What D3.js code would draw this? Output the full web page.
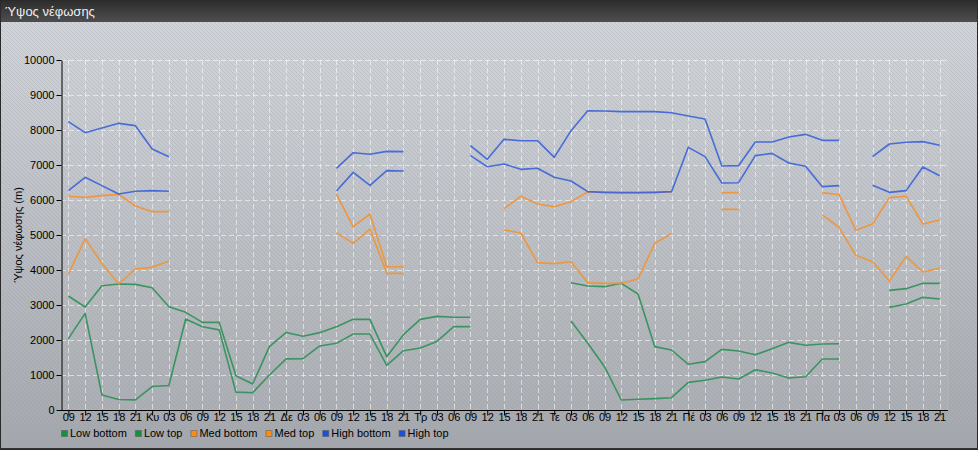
<!DOCTYPE html>
<html><head><meta charset="utf-8">
<script src="https://cdn.jsdelivr.net/npm/d3@7"></script>
<style>
html,body{margin:0;padding:0;background:#fff;}
svg{display:block;font-family:"Liberation Sans",Arial,sans-serif;}
</style></head>
<body>
<svg id="c" width="978" height="450"></svg>
<script>
const title = "Ύψος νέφωσης";
const yTitle = "Ύψος νέφωσης (m)";
const categories = ["09","12","15","18","21",
 "Κυ","03","06","09","12","15","18","21",
 "Δε","03","06","09","12","15","18","21",
 "Τρ","03","06","09","12","15","18","21",
 "Τε","03","06","09","12","15","18","21",
 "Πέ","03","06","09","12","15","18","21",
 "Πα","03","06","09","12","15","18","21"];
const yTicks = [0,1000,2000,3000,4000,5000,6000,7000,8000,9000,10000];
const N = null;
const lowBottom = [2040,2760,430,300,290,670,700,2600,2380,2290,510,495,1000,1460,1467,1830,1905,2170,2170,1276,1695,1771,1960,2381,2381,N,N,N,N,N,2543,1905,1238,286,305,324,352,790,848,943,886,1152,1057,914,952,1457,1457,N,N,2933,3029,3219,3171];
const lowTop = [3257,2943,3552,3600,3590,3495,2952,2790,2505,2505,981,743,1810,2215,2105,2210,2381,2590,2590,1524,2152,2590,2676,2648,2648,N,N,N,N,N,3638,3543,3524,3619,3314,1810,1714,1305,1381,1733,1686,1581,1752,1933,1848,1886,1895,N,N,3419,3467,3619,3619];
const medBottom = [3886,4895,4190,3600,4029,4076,4257,N,N,N,N,N,N,N,N,N,5067,4762,5171,3905,3905,N,N,N,N,N,5143,5057,4210,4181,4238,3638,3619,3619,3743,4762,5048,N,N,5733,5733,N,N,N,N,5571,5219,4419,4238,3686,4390,3943,4048];
const medTop = [6105,6076,6124,6162,5829,5667,5667,N,N,N,N,N,N,N,N,N,6162,5238,5600,4095,4095,N,N,N,N,N,5752,6105,5886,5810,5952,6229,6219,6210,6210,6219,6229,N,N,6210,6210,N,N,N,N,6210,6152,5133,5314,6067,6105,5314,5429];
const highBottom = [6267,6648,6410,6171,6248,6267,6248,N,N,N,N,N,N,N,N,N,6257,6790,6419,6838,6829,N,N,N,7267,6952,7029,6876,6905,6648,6543,6238,6219,6210,6210,6219,6238,7505,7238,6486,6495,7267,7333,7057,6962,6381,6410,N,6419,6219,6267,6943,6695];
const highTop = [8238,7924,8057,8190,8124,7457,7238,N,N,N,N,N,N,N,N,N,6905,7352,7305,7390,7381,N,N,N,7552,7162,7733,7695,7695,7219,7981,8552,8543,8524,8524,8524,8495,8400,8314,6971,6981,7657,7657,7800,7876,7705,7705,N,7238,7600,7648,7667,7562];
const seriesNames = ["Low bottom","Low top","Med bottom","Med top","High bottom","High top"];
const seriesData = [lowBottom, lowTop, medBottom, medTop, highBottom, highTop];
const lineColors = ["#2e9058","#2e9058","#f39232","#f39232","#3a62da","#3a62da"];
const swatchColors = ["#159040","#159040","#ff8c10","#ff8c10","#1c4ee0","#1c4ee0"];

const svg = d3.select("#c");
const W = 978, H = 450;
const defs = svg.append("defs");
const bg = defs.append("linearGradient").attr("id","bg").attr("x1",0).attr("y1",0).attr("x2",0).attr("y2",1);
bg.append("stop").attr("offset","0%").attr("stop-color","#d3d6da");
bg.append("stop").attr("offset","100%").attr("stop-color","#a4a7ab");
const tb = defs.append("linearGradient").attr("id","tb").attr("x1",0).attr("y1",0).attr("x2",0).attr("y2",1);
tb.append("stop").attr("offset","0%").attr("stop-color","#2c2c2c");
tb.append("stop").attr("offset","100%").attr("stop-color","#4e4e4e");
const pat = defs.append("pattern").attr("id","hatch").attr("patternUnits","userSpaceOnUse").attr("width",4).attr("height",4);
pat.append("path").attr("d","M-1,-1 L5,5 M-1,3 L1,5 M3,-1 L5,1").attr("stroke","#8f96a3").attr("stroke-opacity",0.25).attr("stroke-width",1);

svg.append("rect").attr("x",0).attr("y",0).attr("width",W).attr("height",H).attr("fill","url(#bg)");
svg.append("rect").attr("x",0).attr("y",0).attr("width",W).attr("height",H).attr("fill","url(#hatch)");
svg.append("rect").attr("x",0).attr("y",0).attr("width",W).attr("height",22).attr("fill","url(#tb)");
svg.append("rect").attr("x",0.5).attr("y",0.5).attr("width",W-1).attr("height",H-1).attr("fill","none").attr("stroke","#2a2a2a");
svg.append("line").attr("x1",0).attr("x2",W).attr("y1",448.5).attr("y2",448.5).attr("stroke","#333");
svg.append("text").attr("x",5).attr("y",16).attr("fill","#f0f0f0").attr("font-size",13).text(title);

const plotL = 61, plotR = 948, plotT = 60, plotB = 410;
const x = d3.scalePoint().domain(d3.range(categories.length)).range([plotL-1, plotR]).padding(0.5);
const y = d3.scaleLinear().domain([0,10000]).range([plotB, plotT]);

svg.append("rect").attr("x",plotL).attr("y",plotT).attr("width",plotR-plotL).attr("height",plotB-plotT)
  .attr("fill","#ffffff").attr("fill-opacity",0.04).attr("stroke","#ffffff").attr("stroke-opacity",0.12);

const grid = svg.append("g");
grid.selectAll("line.h").data(yTicks.filter(d=>d>0)).join("line")
  .attr("x1",plotL).attr("x2",plotR).attr("y1",d=>y(d)+0.5).attr("y2",d=>y(d)+0.5)
  .attr("stroke","#ffffff").attr("stroke-opacity",0.55).attr("stroke-dasharray","5,3");
grid.selectAll("line.v").data(d3.range(categories.length)).join("line")
  .attr("x1",d=>Math.round(x(d))+0.5).attr("x2",d=>Math.round(x(d))+0.5).attr("y1",plotT).attr("y2",plotB)
  .attr("stroke","#ffffff").attr("stroke-opacity",0.55).attr("stroke-dasharray","5,3");

const line = d3.line().defined(d=>d[1]!=null).x(d=>x(d[0])).y(d=>y(d[1]));
seriesData.forEach((arr,k)=>{
  svg.append("path").datum(arr.map((v,i)=>[i,v])).attr("d",line)
    .attr("fill","none").attr("stroke",lineColors[k]).attr("stroke-width",1.6).attr("stroke-opacity",0.9)
    .attr("stroke-linejoin","round");
});

const yAxis = d3.axisLeft(y).tickValues(yTicks).tickFormat(d3.format("d")).tickSize(5).tickSizeOuter(0).tickPadding(2);
const gy = svg.append("g").attr("transform",`translate(${plotL+0.5},0)`).call(yAxis);
gy.select(".domain").attr("stroke","#000");
gy.selectAll("line").attr("stroke","#000");
gy.selectAll("text").attr("fill","#000").attr("font-size",11).attr("font-family","Liberation Sans, Arial, sans-serif");

const xAxis = d3.axisBottom(x).tickFormat(i=>categories[i]).tickSize(5).tickSizeOuter(0).tickPadding(2);
const gx = svg.append("g").attr("transform",`translate(0,${plotB+0.5})`).call(xAxis);
gx.select(".domain").attr("d",`M${plotL},0H${plotR}`).attr("stroke","#000");
gx.selectAll("line").attr("stroke","#000");
gx.selectAll("text").attr("fill","#000").attr("font-size",11).attr("y",3).attr("font-family","Liberation Sans, Arial, sans-serif");

svg.append("text").attr("transform",`translate(22,${(plotT+plotB)/2}) rotate(-90)`)
  .attr("text-anchor","middle").attr("font-size",11).attr("fill","#000").text(yTitle);

const lg = svg.append("g").attr("transform","translate(61,433)");
let lx = 0;
seriesNames.forEach((n,k)=>{
  lg.append("rect").attr("x",lx+0.5).attr("y",-2.5).attr("width",6).attr("height",6)
    .attr("fill",swatchColors[k]).attr("stroke","#555").attr("stroke-opacity",0.5);
  const t = lg.append("text").attr("x",lx+9).attr("y",4).attr("font-size",11).attr("fill","#000").text(n);
  lx += 9 + t.node().getComputedTextLength() + 8;
});
</script>
</body></html>
